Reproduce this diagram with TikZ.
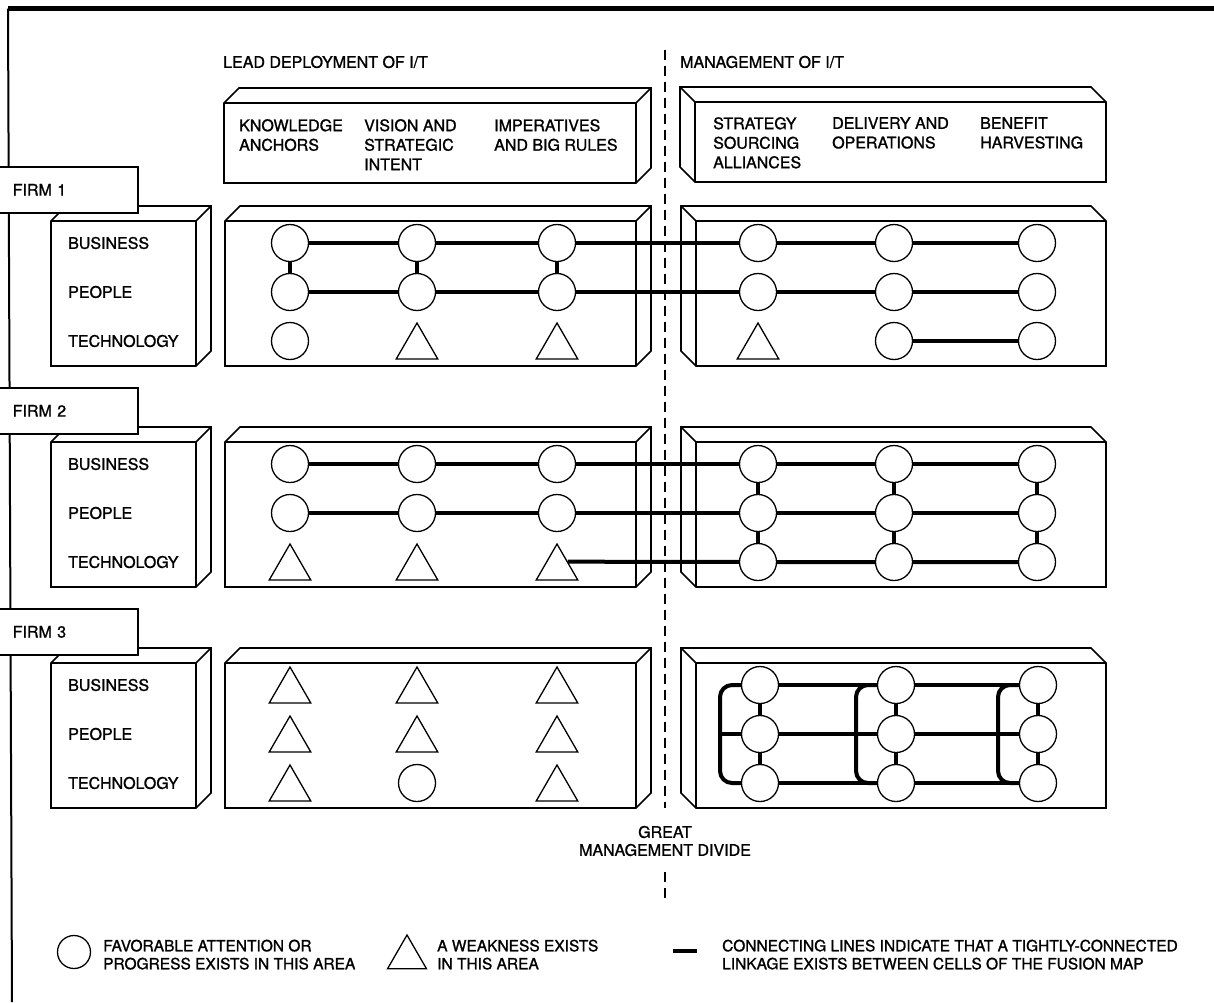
\documentclass[tikz,border=0pt]{standalone}
\usepackage{fontspec}
\setmainfont{TeX Gyre Heros}[FakeBold=1.2]
\usetikzlibrary{shapes.geometric}

\begin{document}
\begin{tikzpicture}[
    x=1pt, y=-1pt,
    font=\fontsize{16}{19.5}\selectfont,
    boxline/.style={line width=1.6pt},
    good/.style={circle, draw, line width=1.3pt, fill=white, minimum size=37pt, inner sep=0pt},
    weak/.style={regular polygon, regular polygon sides=3, draw, line width=1.3pt, fill=white, minimum size=48pt, inner sep=0pt, yshift=-6pt},
    link/.style={line width=4pt},
    bracket/.style={line width=4pt, rounded corners=12pt},
    firmtab/.style={draw, fill=white, line width=1.6pt, anchor=north west, minimum height=46pt, text width=109pt, inner xsep=16pt, inner ysep=0pt},
    rowlab/.style={anchor=west, inner sep=0pt},
    title/.style={anchor=west, inner sep=0pt},
    colhead/.style={anchor=north west, align=left, inner sep=0pt},
    keytext/.style={anchor=north west, align=left, inner sep=0pt, font=\fontsize{15.5}{18}\selectfont},
    divline/.style={line width=1.4pt, dash pattern=on 10pt off 6pt},
    pics/rbox/.style 2 args={code={
        \filldraw[boxline, fill=white] (0,0) -- (15,-15) -- (#1+15,-15) -- (#1+15,#2-15) -- (#1,#2) -- (0,#2) -- cycle;
        \draw[boxline] (0,0) -- (#1,0) -- (#1,#2) (#1,0) -- (#1+15,-15);
    }},
    pics/lbox/.style 2 args={code={
        \filldraw[boxline, fill=white] (#1,0) -- (#1-15,-15) -- (-15,-15) -- (-15,#2-15) -- (0,#2) -- (#1,#2) -- cycle;
        \draw[boxline] (#1,0) -- (0,0) -- (0,#2) (0,0) -- (-15,-15);
    }}
]
\useasboundingbox (0,0) rectangle (1214,1002);

% Frame
\coordinate (frtl) at (8,8.5);
\draw[line width=5pt] (frtl) -- (1214,8.5);
\draw[line width=2pt] (frtl) -- (12,1002);

% Column headings
\node[title] (lead) at (223,62) {LEAD DEPLOYMENT OF I/T};
\node[title] (mgmt) at (680,62) {MANAGEMENT OF I/T};
\pic at (224,103) {rbox={412}{80}};
\pic at (695,102) {lbox={411}{80}};
\node[colhead] (know) at (239,119) {KNOWLEDGE\\ANCHORS};
\node[colhead] (vision) at (364,119) {VISION AND\\STRATEGIC\\INTENT};
\node[colhead] (imper) at (494,119) {IMPERATIVES\\AND BIG RULES};
\node[colhead] (strat) at (713,117) {STRATEGY\\SOURCING\\ALLIANCES};
\node[colhead] (deliv) at (832,117) {DELIVERY AND\\OPERATIONS};
\node[colhead] (benef) at (980,117) {BENEFIT\\HARVESTING};

% Firm rows
\pic at (51,221) {rbox={145}{145}};
\pic at (51,442) {rbox={145}{145}};
\pic at (51,663) {rbox={145}{145}};
\node[firmtab] (firm1) at (-4,166) {FIRM 1};
\node[firmtab] (firm2) at (-4,387) {FIRM 2};
\node[firmtab] (firm3) at (-4,608) {FIRM 3};
\node[rowlab] (bus1) at (68,243) {BUSINESS};
\node[rowlab] (peo1) at (68,292) {PEOPLE};
\node[rowlab] (tec1) at (68,341) {TECHNOLOGY};
\node[rowlab] (bus2) at (68,464) {BUSINESS};
\node[rowlab] (peo2) at (68,513) {PEOPLE};
\node[rowlab] (tec2) at (68,562) {TECHNOLOGY};
\node[rowlab] (bus3) at (68,685) {BUSINESS};
\node[rowlab] (peo3) at (68,734) {PEOPLE};
\node[rowlab] (tec3) at (68,783) {TECHNOLOGY};

% Fusion map boxes
\pic at (225,221) {rbox={411}{145}};
\pic at (225,442) {rbox={411}{145}};
\pic at (225,663) {rbox={411}{145}};
\pic at (696,221) {lbox={410}{145}};
\pic at (696,442) {lbox={410}{145}};
\pic at (696,663) {lbox={410}{145}};

% Great management divide
\coordinate (divtop) at (665,50);
\coordinate (divbot) at (665,808);
\coordinate (divlow) at (665,872);
\coordinate (divend) at (665,900);
\draw[divline] (divtop) -- (divbot);
\node[align=center, inner sep=0pt, font=\fontsize{16}{18}\selectfont] (gmd) at (665,841) {GREAT\\MANAGEMENT DIVIDE};
\draw[divline] (divlow) -- (divend);

% Firm 1 cells
\node[good] (k1b) at (290,243) {};
\node[good] (v1b) at (417,243) {};
\node[good] (i1b) at (557,243) {};
\node[good] (s1b) at (758,243) {};
\node[good] (d1b) at (894,243) {};
\node[good] (h1b) at (1037,243) {};
\node[good] (k1p) at (290,292) {};
\node[good] (v1p) at (417,292) {};
\node[good] (i1p) at (557,292) {};
\node[good] (s1p) at (758,292) {};
\node[good] (d1p) at (894,292) {};
\node[good] (h1p) at (1037,292) {};
\node[good] (k1t) at (290,341) {};
\node[weak] (v1t) at (417,341) {};
\node[weak] (i1t) at (557,341) {};
\node[weak] (s1t) at (758,341) {};
\node[good] (d1t) at (894,341) {};
\node[good] (h1t) at (1037,341) {};

% Firm 2 cells
\node[good] (k2b) at (290,464) {};
\node[good] (v2b) at (417,464) {};
\node[good] (i2b) at (557,464) {};
\node[good] (s2b) at (758,464) {};
\node[good] (d2b) at (894,464) {};
\node[good] (h2b) at (1037,464) {};
\node[good] (k2p) at (290,513) {};
\node[good] (v2p) at (417,513) {};
\node[good] (i2p) at (557,513) {};
\node[good] (s2p) at (758,513) {};
\node[good] (d2p) at (894,513) {};
\node[good] (h2p) at (1037,513) {};
\node[weak] (k2t) at (290,562) {};
\node[weak] (v2t) at (417,562) {};
\node[weak] (i2t) at (557,562) {};
\node[good] (s2t) at (758,562) {};
\node[good] (d2t) at (894,562) {};
\node[good] (h2t) at (1037,562) {};

% Firm 3 cells
\node[weak] (k3b) at (290,685) {};
\node[weak] (v3b) at (417,685) {};
\node[weak] (i3b) at (557,685) {};
\node[good] (s3b) at (760,685) {};
\node[good] (d3b) at (896,685) {};
\node[good] (h3b) at (1038,685) {};
\node[weak] (k3p) at (290,734) {};
\node[weak] (v3p) at (417,734) {};
\node[weak] (i3p) at (557,734) {};
\node[good] (s3p) at (760,734) {};
\node[good] (d3p) at (896,734) {};
\node[good] (h3p) at (1038,734) {};
\node[weak] (k3t) at (290,783) {};
\node[good] (v3t) at (417,783) {};
\node[weak] (i3t) at (557,783) {};
\node[good] (s3t) at (760,783) {};
\node[good] (d3t) at (896,783) {};
\node[good] (h3t) at (1038,783) {};

% Linkages, firm 1
\draw[link] (k1b) -- (v1b) -- (i1b) -- (s1b) -- (d1b) -- (h1b);
\draw[link] (k1p) -- (v1p) -- (i1p) -- (s1p) -- (d1p) -- (h1p);
\draw[link] (d1t) -- (h1t);
\draw[link] (k1b) -- (k1p);
\draw[link] (v1b) -- (v1p);
\draw[link] (i1b) -- (i1p);

% Linkages, firm 2
\draw[link] (k2b) -- (v2b) -- (i2b) -- (s2b) -- (d2b) -- (h2b);
\draw[link] (k2p) -- (v2p) -- (i2p) -- (s2p) -- (d2p) -- (h2p);
\draw[link] (i2t.side 3) -- (s2t) -- (d2t) -- (h2t);
\draw[link] (s2b) -- (s2p) -- (s2t);
\draw[link] (d2b) -- (d2p) -- (d2t);
\draw[link] (h2b) -- (h2p) -- (h2t);

% Linkages, firm 3
\draw[link] (s3b) -- (d3b) -- (h3b);
\draw[link] (s3p) -- (d3p) -- (h3p);
\draw[link] (s3t) -- (d3t) -- (h3t);
\draw[link] (s3b) -- (s3p) -- (s3t);
\draw[link] (d3b) -- (d3p) -- (d3t);
\draw[link] (h3b) -- (h3p) -- (h3t);
\draw[bracket] (s3b) -- ++(-40,0) |- (s3t);
\draw[link] (s3p) -- ++(-40,0);
\draw[bracket] (d3b) -- ++(-40,0) |- (d3t);
\draw[bracket] (h3b) -- ++(-40,0) |- (h3t);

% Key
\node[good, minimum size=33pt] (kgood) at (74,952) {};
\node[keytext] (kgoodtxt) at (103,939.5) {FAVORABLE ATTENTION OR\\PROGRESS EXISTS IN THIS AREA};
\node[weak, minimum size=45pt] (kweak) at (407,951.5) {};
\node[keytext] (kweaktxt) at (437,939.5) {A WEAKNESS EXISTS\\IN THIS AREA};
\coordinate (klineA) at (673,951);
\coordinate (klineB) at (697,951);
\draw[link] (klineA) -- (klineB);
\node[keytext] (klinetxt) at (722,939.5) {CONNECTING LINES INDICATE THAT A TIGHTLY-CONNECTED\\LINKAGE EXISTS BETWEEN CELLS OF THE FUSION MAP};

\end{tikzpicture}
\end{document}
